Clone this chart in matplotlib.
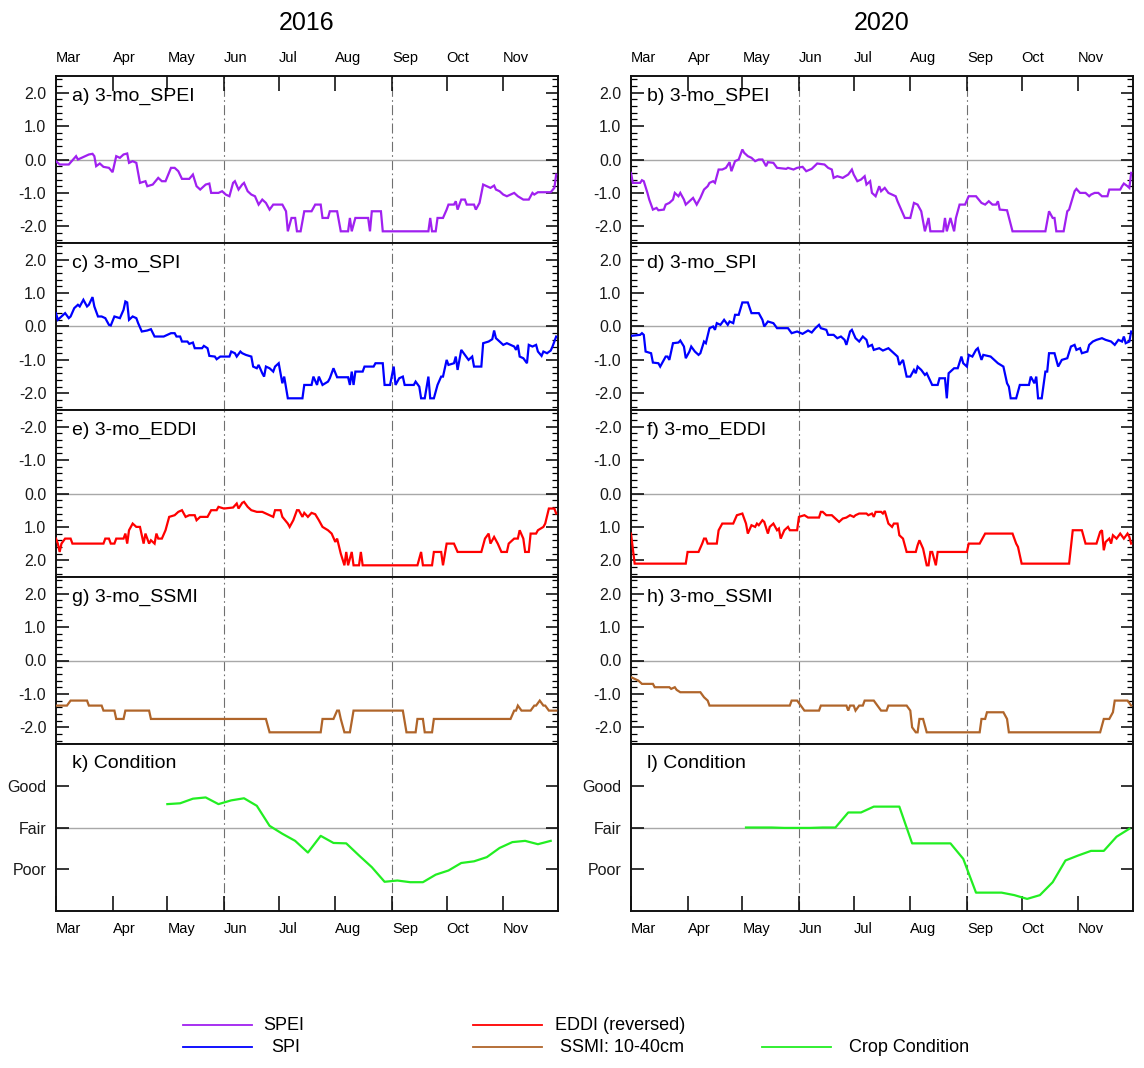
import numpy as np
import matplotlib
matplotlib.use("Agg")
import matplotlib.pyplot as plt
from matplotlib.lines import Line2D
from matplotlib.ticker import MultipleLocator, FixedLocator, FormatStrFormatter

plt.rcParams['font.family'] = ['Liberation Sans', 'DejaVu Sans']
plt.rcParams['axes.unicode_minus'] = False

# ---------------- data (day offset from Mar 1, value) ----------------
years = [2016, 2020]
month_labels = ['Mar', 'Apr', 'May', 'Jun', 'Jul', 'Aug', 'Sep', 'Oct', 'Nov']
panel_labels = [['a) 3-mo_SPEI', 'c) 3-mo_SPI', 'e) 3-mo_EDDI', 'g) 3-mo_SSMI', 'k) Condition'],
                ['b) 3-mo_SPEI', 'd) 3-mo_SPI', 'f) 3-mo_EDDI', 'h) 3-mo_SSMI', 'l) Condition']]
cond_ticks = [2, 3, 4]
cond_labels = ['Poor', 'Fair', 'Good']

spei_2016 = [(0,-0.05),(2,-0.15),(7,-0.15),(11,0.10),(12,0.00),(14,0.05),(16,0.10),(18,0.15),(20,0.17),(21,0.10),(22,-0.20),(24,-0.12),(26,-0.22),(29,-0.25),(31,-0.38),(33,0.10),(35,0.05),(37,0.15),(39,0.18),(40,-0.10),(42,-0.05),(44,-0.10),(46,-0.70),(49,-0.65),(50,-0.80),(53,-0.75),(56,-0.55),(58,-0.65),(60,-0.65),(63,-0.25),(65,-0.25),(67,-0.35),(69,-0.58),(73,-0.58),(75,-0.45),(77,-0.80),(79,-0.90),(82,-0.75),(84,-0.72),(85,-1.00),(89,-1.00),(91,-0.95),(93,-1.05),(95,-1.10),(97,-0.70),(98,-0.65),(100,-0.90),(102,-0.75),(103,-0.70),(105,-0.95),(107,-1.05),(109,-1.10),(111,-1.35),(113,-1.20),(115,-1.30),(117,-1.50),(119,-1.35),(124,-1.35),(126,-1.55),(127,-2.15),(129,-1.75),(131,-1.75),(132,-2.15),(134,-2.15),(136,-1.55),(140,-1.55),(142,-1.35),(145,-1.35),(146,-1.75),(149,-1.75),(150,-1.55),(154,-1.55),(156,-2.15),(160,-2.15),(161,-1.75),(162,-2.15),(164,-1.75),(171,-1.75),(172,-2.15),(173,-1.55),(178,-1.55),(179,-2.15),(204,-2.15),(205,-1.75),(206,-2.15),(208,-2.15),(209,-1.75),(212,-1.75),(214,-1.50),(215,-1.35),(218,-1.35),(219,-1.25),(220,-1.50),(222,-1.20),(224,-1.20),(225,-1.35),(229,-1.35),(230,-1.50),(232,-1.30),(234,-0.75),(236,-0.80),(238,-0.85),(240,-0.78),(241,-0.90),(243,-0.95),(245,-1.05),(247,-1.10),(249,-1.05),(251,-1.00),(253,-1.10),(256,-1.20),(259,-1.20),(261,-1.00),(262,-1.05),(264,-0.98),(271,-0.98),(273,-0.85),(274,-0.45)]

spei_2020 = [(0,-0.40),(1,-0.70),(5,-0.70),(6,-0.62),(7,-0.65),(9,-1.00),(10,-1.20),(12,-1.50),(14,-1.45),(15,-1.52),(18,-1.50),(19,-1.35),(21,-1.30),(23,-1.20),(24,-1.00),(26,-1.10),(27,-1.00),(29,-1.20),(30,-1.35),(32,-1.25),(34,-1.15),(36,-1.35),(38,-1.15),(40,-0.90),(42,-0.80),(43,-0.70),(45,-0.65),(46,-0.70),(48,-0.30),(50,-0.30),(52,-0.25),(54,-0.08),(55,-0.35),(57,-0.05),(59,0.00),(61,0.30),(62,0.20),(64,0.10),(66,0.05),(68,-0.05),(70,0.00),(72,0.00),(74,-0.20),(75,-0.08),(78,-0.10),(80,-0.25),(85,-0.28),(86,-0.25),(89,-0.30),(91,-0.25),(94,-0.22),(96,-0.35),(99,-0.28),(102,-0.12),(106,-0.15),(108,-0.25),(110,-0.30),(111,-0.55),(113,-0.50),(116,-0.55),(119,-0.45),(121,-0.30),(122,-0.45),(124,-0.65),(126,-0.60),(128,-0.50),(129,-0.75),(131,-0.65),(132,-1.00),(134,-1.10),(136,-0.80),(137,-0.95),(139,-0.85),(141,-1.00),(145,-1.10),(146,-1.25),(148,-1.50),(150,-1.75),(153,-1.75),(155,-1.30),(157,-1.35),(159,-1.55),(161,-2.15),(163,-1.75),(164,-2.15),(171,-2.15),(172,-1.75),(173,-2.15),(175,-1.75),(177,-2.15),(178,-1.75),(180,-1.35),(183,-1.35),(185,-1.10),(189,-1.10),(192,-1.30),(194,-1.35),(196,-1.25),(198,-1.35),(200,-1.35),(201,-1.25),(202,-1.50),(206,-1.52),(209,-2.15),(227,-2.15),(229,-1.55),(231,-1.75),(232,-1.75),(233,-2.15),(237,-2.15),(239,-1.55),(240,-1.50),(243,-0.95),(244,-0.88),(246,-1.00),(249,-1.00),(251,-1.10),(252,-1.05),(254,-1.00),(256,-1.00),(258,-1.10),(261,-1.10),(262,-0.90),(268,-0.90),(269,-0.80),(270,-0.72),(272,-0.80),(273,-0.85),(274,-0.40)]

spi_2016 = [(0,0.40),(1,0.20),(3,0.30),(5,0.40),(7,0.25),(8,0.30),(10,0.55),(12,0.65),(13,0.60),(15,0.80),(17,0.60),(18,0.65),(20,0.88),(21,0.60),(23,0.30),(25,0.30),(27,0.25),(29,0.05),(30,0.03),(32,0.30),(35,0.25),(37,0.50),(38,0.75),(39,0.72),(40,0.20),(42,0.30),(44,0.25),(45,0.10),(47,-0.15),(50,-0.12),(52,-0.08),(54,-0.30),(59,-0.30),(61,-0.25),(63,-0.20),(65,-0.20),(66,-0.30),(68,-0.30),(69,-0.45),(72,-0.45),(73,-0.52),(75,-0.48),(76,-0.65),(80,-0.65),(81,-0.58),(83,-0.65),(84,-0.88),(87,-0.90),(88,-0.98),(90,-0.90),(95,-0.90),(96,-0.75),(98,-0.80),(99,-0.90),(101,-0.75),(102,-0.80),(104,-0.85),(107,-0.90),(108,-1.20),(110,-1.25),(111,-1.15),(113,-1.40),(114,-1.50),(115,-1.20),(117,-1.25),(119,-1.35),(120,-1.20),(122,-1.10),(124,-1.70),(125,-1.50),(127,-2.15),(135,-2.15),(136,-1.75),(140,-1.75),(141,-1.50),(143,-1.75),(144,-1.50),(146,-1.75),(149,-1.65),(150,-1.55),(152,-1.25),(154,-1.52),(160,-1.52),(161,-1.75),(162,-1.35),(163,-1.75),(164,-1.35),(168,-1.35),(169,-1.20),(174,-1.20),(175,-1.10),(179,-1.10),(180,-1.75),(183,-1.75),(185,-1.20),(186,-1.75),(188,-1.55),(190,-1.50),(191,-1.75),(196,-1.75),(197,-1.65),(199,-1.80),(200,-2.15),(202,-2.15),(204,-1.50),(205,-2.15),(207,-2.15),(209,-1.75),(211,-1.50),(212,-1.50),(214,-1.00),(215,-1.15),(218,-1.10),(219,-0.90),(220,-1.30),(222,-0.70),(224,-0.85),(226,-1.00),(228,-0.90),(229,-1.20),(233,-1.20),(234,-0.50),(237,-0.45),(239,-0.38),(240,-0.12),(241,-0.35),(243,-0.45),(245,-0.55),(247,-0.50),(249,-0.55),(251,-0.60),(252,-0.70),(253,-0.55),(254,-0.90),(256,-0.95),(258,-1.10),(259,-0.55),(261,-0.60),(263,-0.55),(264,-0.75),(266,-0.88),(267,-0.75),(269,-0.80),(271,-0.72),(272,-0.60),(274,-0.30)]

spi_2020 = [(0,-0.28),(5,-0.25),(6,-0.20),(7,-0.25),(8,-0.75),(11,-0.80),(12,-1.08),(15,-1.10),(16,-1.20),(18,-1.00),(19,-0.90),(20,-0.90),(21,-1.00),(23,-0.50),(26,-0.48),(27,-0.42),(29,-0.60),(30,-0.95),(32,-0.75),(33,-0.60),(35,-0.75),(37,-0.85),(38,-0.80),(40,-0.45),(41,-0.50),(43,-0.05),(45,0.00),(46,-0.10),(47,0.10),(49,0.05),(51,0.20),(53,0.05),(54,0.15),(56,0.10),(57,0.35),(59,0.35),(61,0.72),(64,0.72),(66,0.40),(70,0.40),(72,0.20),(73,0.00),(75,0.15),(78,0.10),(80,-0.05),(86,-0.05),(88,-0.20),(91,-0.15),(94,-0.22),(97,-0.12),(99,-0.18),(101,-0.05),(103,0.05),(104,-0.05),(107,-0.10),(108,-0.25),(111,-0.25),(113,-0.35),(115,-0.30),(117,-0.40),(118,-0.55),(120,-0.15),(121,-0.10),(123,-0.35),(125,-0.45),(127,-0.30),(129,-0.40),(130,-0.60),(132,-0.55),(133,-0.70),(136,-0.65),(138,-0.72),(141,-0.65),(143,-0.75),(146,-0.90),(147,-1.15),(149,-1.00),(151,-1.50),(153,-1.50),(155,-1.30),(156,-1.40),(157,-1.20),(159,-1.30),(161,-1.45),(162,-1.40),(165,-1.75),(168,-1.75),(169,-1.55),(172,-1.55),(173,-2.15),(174,-1.40),(177,-1.25),(179,-1.25),(181,-0.90),(182,-1.10),(184,-1.20),(185,-0.85),(187,-0.90),(189,-0.70),(190,-0.65),(192,-1.00),(193,-0.85),(197,-0.90),(201,-1.10),(204,-1.20),(206,-1.70),(207,-1.80),(208,-2.15),(211,-2.15),(213,-1.75),(218,-1.75),(219,-1.50),(221,-1.70),(222,-1.50),(223,-2.15),(225,-2.15),(227,-1.35),(228,-1.35),(229,-0.80),(232,-0.80),(234,-1.20),(236,-1.00),(239,-0.95),(241,-0.60),(243,-0.55),(244,-0.70),(246,-0.65),(247,-0.80),(250,-0.75),(251,-0.55),(253,-0.45),(255,-0.40),(258,-0.35),(260,-0.40),(263,-0.45),(265,-0.55),(267,-0.40),(269,-0.45),(270,-0.30),(271,-0.50),(273,-0.45),(274,-0.15)]

eddi_2016 = [(0,1.35),(1,1.50),(2,1.75),(3,1.50),(5,1.35),(8,1.35),(9,1.50),(26,1.50),(27,1.35),(29,1.35),(30,1.50),(32,1.50),(33,1.35),(37,1.35),(38,1.20),(39,1.50),(40,1.10),(42,0.90),(44,1.00),(46,1.00),(48,1.50),(49,1.20),(51,1.50),(52,1.40),(54,1.50),(55,1.20),(56,1.35),(58,1.35),(60,1.10),(62,0.70),(65,0.65),(67,0.55),(69,0.50),(71,0.70),(73,0.65),(76,0.65),(77,0.80),(79,0.70),(83,0.70),(85,0.50),(88,0.50),(89,0.40),(92,0.45),(97,0.42),(99,0.30),(100,0.45),(102,0.28),(103,0.25),(105,0.40),(107,0.50),(110,0.55),(113,0.55),(117,0.65),(119,0.70),(120,0.50),(123,0.50),(124,0.70),(127,0.90),(128,1.00),(130,0.80),(132,0.50),(133,0.50),(135,0.70),(136,0.58),(138,0.70),(140,0.58),(142,0.62),(144,0.80),(146,1.00),(149,1.10),(151,1.20),(153,1.45),(154,1.35),(156,1.80),(158,2.15),(159,1.75),(160,2.15),(162,1.75),(163,2.15),(166,2.15),(167,1.75),(168,2.15),(198,2.15),(200,1.75),(201,2.15),(206,2.15),(207,1.75),(211,1.75),(212,2.15),(214,1.50),(218,1.50),(220,1.75),(233,1.75),(235,1.35),(237,1.20),(238,1.50),(240,1.30),(242,1.50),(244,1.75),(247,1.75),(248,1.50),(251,1.35),(253,1.35),(254,1.10),(256,1.35),(257,1.75),(259,1.75),(260,1.20),(263,1.20),(264,1.10),(267,1.00),(268,0.90),(270,0.45),(273,0.45),(274,0.60)]

eddi_2020 = [(0,1.20),(2,2.10),(30,2.10),(31,1.75),(37,1.75),(39,1.50),(40,1.35),(41,1.35),(42,1.50),(47,1.50),(48,1.10),(50,0.90),(56,0.90),(58,0.65),(61,0.60),(63,0.90),(64,1.20),(66,0.95),(68,1.00),(69,0.90),(70,0.95),(72,0.80),(73,0.85),(75,1.20),(76,1.00),(78,0.90),(80,1.10),(81,1.05),(82,1.35),(84,1.10),(86,1.00),(87,1.10),(91,1.10),(92,0.70),(95,0.65),(97,0.72),(103,0.72),(104,0.55),(105,0.55),(107,0.65),(110,0.65),(112,0.75),(114,0.85),(116,0.75),(118,0.72),(120,0.65),(122,0.70),(123,0.65),(125,0.60),(129,0.60),(130,0.65),(132,0.60),(133,0.70),(134,0.55),(137,0.55),(138,0.60),(139,0.52),(141,0.90),(143,1.00),(144,0.90),(146,0.90),(147,1.25),(149,1.35),(151,1.75),(156,1.75),(157,1.55),(158,1.40),(160,1.65),(162,2.15),(163,2.15),(164,1.75),(165,1.75),(167,2.15),(168,1.75),(184,1.75),(185,1.50),(191,1.50),(194,1.20),(209,1.20),(211,1.50),(212,1.60),(214,2.10),(240,2.10),(242,1.10),(247,1.10),(249,1.50),(255,1.50),(257,1.15),(258,1.10),(259,1.70),(260,1.45),(262,1.35),(263,1.50),(264,1.25),(266,1.35),(268,1.20),(270,1.35),(272,1.20),(273,1.30),(274,1.50)]

ssmi_2016 = [(0,-1.35),(6,-1.35),(8,-1.20),(17,-1.20),(18,-1.35),(25,-1.35),(26,-1.50),(32,-1.50),(33,-1.75),(37,-1.75),(38,-1.50),(51,-1.50),(52,-1.75),(115,-1.75),(117,-2.15),(145,-2.15),(146,-1.75),(152,-1.75),(154,-1.50),(155,-1.50),(156,-1.75),(158,-2.15),(161,-2.15),(163,-1.50),(190,-1.50),(192,-2.15),(197,-2.15),(198,-1.75),(201,-1.75),(202,-2.15),(206,-2.15),(207,-1.75),(249,-1.75),(251,-1.50),(252,-1.50),(253,-1.35),(255,-1.50),(260,-1.50),(262,-1.35),(263,-1.35),(265,-1.20),(267,-1.35),(268,-1.35),(270,-1.50),(274,-1.50)]

ssmi_2020 = [(0,-0.50),(2,-0.55),(4,-0.60),(5,-0.65),(6,-0.70),(12,-0.70),(13,-0.80),(21,-0.80),(22,-0.85),(24,-0.80),(25,-0.88),(27,-0.95),(38,-0.95),(40,-1.10),(42,-1.20),(43,-1.35),(87,-1.35),(88,-1.20),(91,-1.20),(93,-1.35),(95,-1.50),(103,-1.50),(104,-1.35),(118,-1.35),(119,-1.50),(120,-1.35),(122,-1.35),(123,-1.50),(125,-1.35),(127,-1.35),(128,-1.20),(133,-1.20),(135,-1.35),(137,-1.50),(140,-1.50),(141,-1.35),(151,-1.35),(153,-1.50),(154,-2.00),(156,-2.15),(157,-2.15),(158,-1.75),(160,-1.75),(162,-2.15),(191,-2.15),(192,-1.75),(194,-1.75),(195,-1.55),(204,-1.55),(206,-1.75),(207,-2.15),(257,-2.15),(259,-1.75),(262,-1.75),(264,-1.55),(265,-1.20),(272,-1.20),(274,-1.35)]

# weekly crop condition (first report date, weekly values: 2=Poor, 3=Fair, 4=Good)
cond_start = {2016: '2016-05-01', 2020: '2020-05-03'}
cond_2016 = [3.56, 3.58, 3.69, 3.72, 3.56, 3.65, 3.70, 3.52, 3.04, 2.85, 2.68, 2.40, 2.80, 2.63, 2.62,
             2.33, 2.05, 1.70, 1.73, 1.69, 1.69, 1.87, 1.97, 2.15, 2.19, 2.29, 2.51, 2.65, 2.68, 2.60, 2.68]
cond_2020 = [3.00, 3.00, 3.00, 2.99, 2.99, 2.99, 3.00, 3.00, 3.36, 3.36, 3.50, 3.50, 3.50, 2.62, 2.62,
             2.62, 2.62, 2.25, 1.44, 1.44, 1.44, 1.38, 1.29, 1.38, 1.69, 2.21, 2.33, 2.44, 2.44, 2.78, 2.97]

series = {2016: [spei_2016, spi_2016, eddi_2016, ssmi_2016],
          2020: [spei_2020, spi_2020, eddi_2020, ssmi_2020]}
conds = {2016: cond_2016, 2020: cond_2020}

colors = ['#A020F0', '#0000FF', '#FF0000', '#B0652A']
cond_color = '#22EE22'
legend_names = ['SPEI', 'SPI', 'EDDI (reversed)', 'SSMI: 10-40cm', 'Crop Condition']

# ---------------- layout ----------------
W, H = 1144.0, 1068.0
fig = plt.figure(figsize=(W / 100, H / 100), dpi=100)
col_left = [56, 631]
col_w = 502
row_tops = [76, 243, 410, 577, 744]
row_h = 167


def to_dates(start, offsets):
    return np.datetime64(start) + np.asarray(offsets).astype('timedelta64[D]')


for c, yr in enumerate(years):
    t0 = np.datetime64(f'{yr}-03-01')
    t1 = np.datetime64(f'{yr}-12-01')
    month_ticks = [np.datetime64(f'{yr}-{m:02d}-01') for m in range(3, 12)]
    for r in range(5):
        ax = fig.add_axes([col_left[c] / W, 1 - (row_tops[r] + row_h) / H, col_w / W, row_h / H])
        ax.set_xlim(t0, t1)
        for sp in ax.spines.values():
            sp.set_linewidth(1.4)
            sp.set_color('#111111')
        for vd in (f'{yr}-06-01', f'{yr}-09-01'):
            ax.axvline(np.datetime64(vd), color='#707070', lw=0.8, ls=(0, (9, 3, 1.5, 3)), zorder=1)
        if r < 4:
            pairs = series[yr][r]
            d = [p[0] for p in pairs]
            v = [p[1] for p in pairs]
            ax.axhline(0, color='#a8a8a8', lw=1.0, zorder=1)
            ax.plot(to_dates(t0, d), v, color=colors[r], lw=1.6, zorder=3, solid_joinstyle='miter')
            if r == 2:
                ax.set_ylim(2.5, -2.5)
            else:
                ax.set_ylim(-2.5, 2.5)
            ax.yaxis.set_major_locator(FixedLocator([-2, -1, 0, 1, 2]))
            ax.yaxis.set_minor_locator(MultipleLocator(0.2))
            ax.yaxis.set_major_formatter(FormatStrFormatter('%.1f'))
        else:
            vals = conds[yr]
            cd = np.datetime64(cond_start[yr]) + 7 * np.arange(len(vals)).astype('timedelta64[D]')
            ax.axhline(3, color='#a8a8a8', lw=1.0, zorder=1)
            ax.plot(cd, vals, color=cond_color, lw=1.6, zorder=3)
            ax.set_ylim(1, 5)
            ax.set_yticks(cond_ticks, cond_labels)
        ax.tick_params(axis='y', which='major', direction='in', left=True, right=True,
                       length=9, width=1.1, labelsize=11.5, pad=7, labelcolor='#1a1a1a')
        ax.tick_params(axis='y', which='minor', direction='in', left=True, right=True,
                       length=4.5, width=0.9)
        if r == 0:
            ax.set_xticks(month_ticks, month_labels, ha='left')
            ax.tick_params(axis='x', which='major', direction='in', top=True, bottom=False,
                           labeltop=True, labelbottom=False, length=11, width=1.1,
                           labelsize=10.5, pad=8)
        elif r == 4:
            ax.set_xticks(month_ticks, month_labels, ha='left')
            ax.tick_params(axis='x', which='major', direction='in', top=False, bottom=True,
                           labeltop=False, labelbottom=True, length=11, width=1.1,
                           labelsize=10.5, pad=8)
        else:
            ax.set_xticks([])
        ax.tick_params(axis='x', which='minor', bottom=False, top=False)
        ax.text(0.032, 0.875 if r < 4 else 0.885, panel_labels[c][r], transform=ax.transAxes,
                fontsize=14, ha='left', va='center', zorder=5)
    fig.text((col_left[c] + col_w / 2) / W, 1 - 23 / H, str(yr), fontsize=18,
             ha='center', va='center')

# ---------------- legend ----------------
leg_items = [
    (legend_names[0], colors[0], 183, 252, 1025, 284),
    (legend_names[1], colors[1], 183, 252, 1047, 286),
    (legend_names[2], colors[2], 473, 542, 1025, 620),
    (legend_names[3], colors[3], 473, 542, 1047, 622),
    (legend_names[4], cond_color, 762, 831, 1047, 909),
]
for name, col, x1, x2, y, xt in leg_items:
    fig.add_artist(Line2D([x1 / W, x2 / W], [1 - y / H, 1 - y / H], transform=fig.transFigure,
                          color=col, lw=1.3))
    fig.text(xt / W, 1 - y / H, name, fontsize=13, ha='center', va='center')

fig.savefig('out.png', dpi=100)
